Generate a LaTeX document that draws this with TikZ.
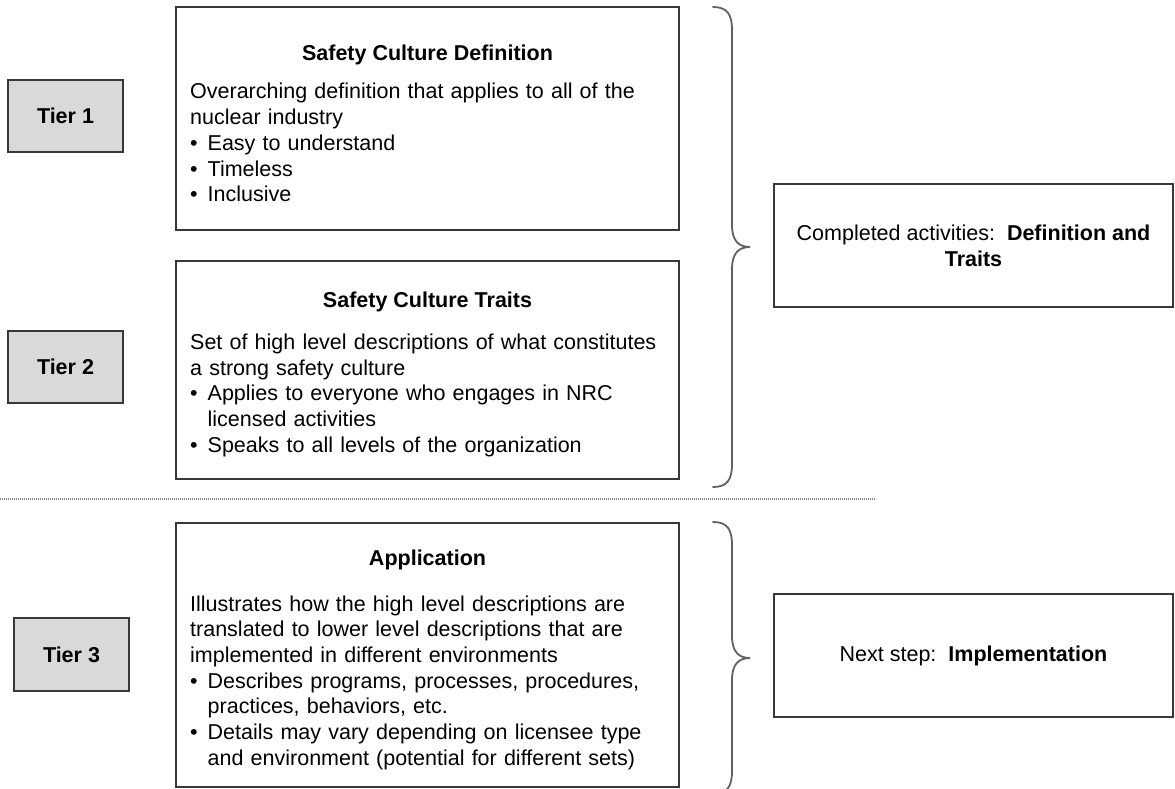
\documentclass[tikz,border=0pt]{standalone}
\usepackage{fontspec}
\setmainfont{Liberation Sans}
\begin{document}
\begin{tikzpicture}[x=1pt,y=-1pt,
  txt/.style={inner sep=0pt, font=\fontsize{21.5}{25.7}\selectfont},
  tierbox/.style={draw=black!78, line width=1.6pt, fill=black!15, inner sep=0pt,
    minimum width=115pt, minimum height=72pt, font=\fontsize{21.5}{25.7}\selectfont\bfseries},
  panel/.style={draw=black!78, line width=1.5pt, inner sep=0pt},
  title/.style={txt, font=\fontsize{21.5}{25.7}\selectfont\bfseries, anchor=base},
  body/.style={txt, anchor=base west, text width=480pt, align=left},
  brace/.style={draw=black!62, line width=1.8pt, line cap=round},
  sepline/.style={draw=black!45, line width=1.2pt, dash pattern=on 1.2pt off 0.8pt}
]
\newcommand{\bul}{\makebox[17.5pt][l]{•}}
\newcommand{\cont}{\hspace*{17.5pt}}

\useasboundingbox (0,0) rectangle (1175,789);

% tier labels
\node[tierbox] (t1) at (65.5,116) {Tier 1};
\node[tierbox] (t2) at (65.5,367) {Tier 2};
\node[tierbox, minimum height=73pt] (t3) at (71.5,654.5) {Tier 3};

% content panels
\node[panel, minimum width=503pt, minimum height=223pt] (p1) at (427.5,118.5) {};
\node[panel, minimum width=503pt, minimum height=218pt] (p2) at (427.5,370) {};
\node[panel, minimum width=503pt, minimum height=264pt] (p3) at (427.5,655) {};

\node[title] (h1) at (427.5,61) {Safety Culture Definition};
\node[body] (b1) at (190,99) {Overarching definition that applies to all of the\\
nuclear industry\\
\bul Easy to understand\\
\bul Timeless\\
\bul Inclusive};

\node[title] (h2) at (427.5,307) {Safety Culture Traits};
\node[body] (b2) at (190,349.5) {Set of high level descriptions of what constitutes\\
a strong safety culture\\
\bul Applies to everyone who engages in NRC\\
\cont licensed activities\\
\bul Speaks to all levels of the organization};

\node[title] (h3) at (427.5,565) {Application};
\node[body] (b3) at (190,611) {Illustrates how the high level descriptions are\\
translated to lower level descriptions that are\\
implemented in different environments\\
\bul Describes programs, processes, procedures,\\
\cont practices, behaviors, etc.\\
\bul Details may vary depending on licensee type\\
\cont and environment (potential for different sets)};

% status boxes
\node[panel, minimum width=399pt, minimum height=123pt] (s1) at (973.5,245.5) {};
\node[txt, align=center] (s1t) at (s1.center) {Completed activities:\ \ \textbf{Definition and}\\\textbf{Traits}};
\node[panel, minimum width=399pt, minimum height=123pt] (s2) at (973.5,655.5) {};
\node[txt] (s2t) at (s2.center) {Next step:\ \ \textbf{Implementation}};

% separator between the tiers
\coordinate (sepL) at (0,499);
\coordinate (sepR) at (876,499);
\draw[sepline] (sepL) -- (sepR);

% braces
\draw[brace] (713,7) .. controls (727,7) and (732,14) .. (732,30) -- (732,225)
  .. controls (732,240) and (738,247) .. (750,247)
  .. controls (738,247) and (732,254) .. (732,269) -- (732,464)
  .. controls (732,480) and (727,487) .. (713,487);
\begin{scope}
\clip (0,0) rectangle (1175,789);
\draw[brace] (713,522) .. controls (727,522) and (732,529) .. (732,545) -- (732,636)
  .. controls (732,651) and (738,658) .. (750,658)
  .. controls (738,658) and (732,665) .. (732,680) -- (732,771)
  .. controls (732,787) and (727,794) .. (713,794);
\end{scope}
\end{tikzpicture}
\end{document}
